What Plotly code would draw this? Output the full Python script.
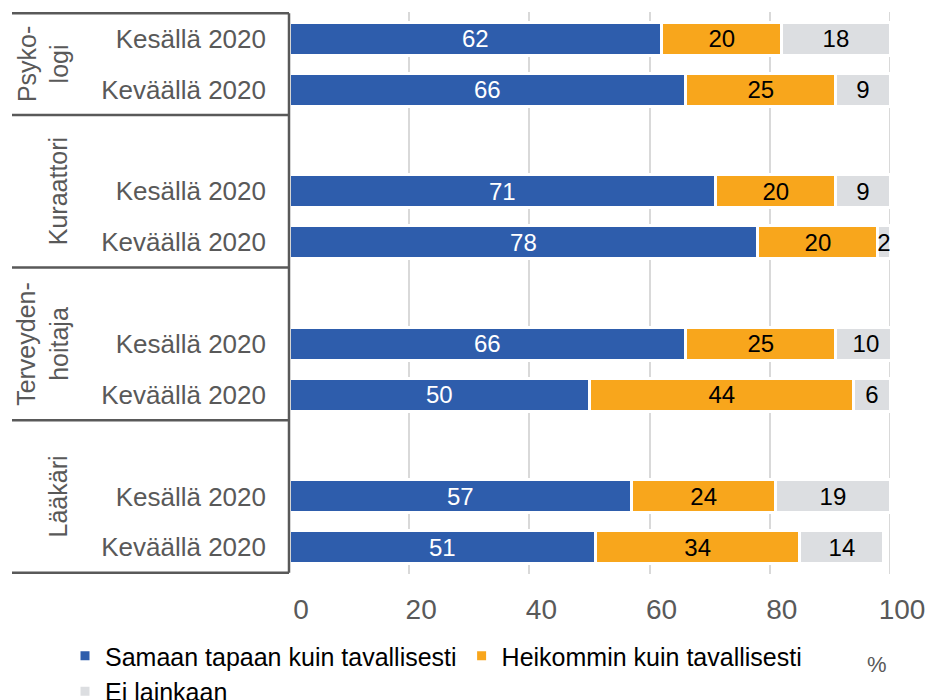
import plotly.graph_objects as go

# ---- data ----
groups = ["Psykologi", "Kuraattori", "Terveydenhoitaja", "Lääkäri"]
group_labels = ["Psyko-<br>logi", "Kuraattori", "Terveyden-<br>hoitaja", "Lääkäri"]
periods = ["Kesällä 2020", "Keväällä 2020"]
series_names = ["Samaan tapaan kuin tavallisesti", "Heikommin kuin tavallisesti", "Ei lainkaan"]

samaan = [62, 66, 71, 78, 66, 50, 57, 51]
heikommin = [20, 25, 20, 20, 25, 44, 24, 34]
ei = [18, 9, 9, 2, 10, 6, 19, 14]

x_ticks = [0, 20, 40, 60, 80, 100]

colors = ["#2E5DAC", "#F8A61C", "#DCDEE1"]
text_colors = ["#FFFFFF", "#000000", "#000000"]

FONT = "Liberation Sans, Arial, sans-serif"
GREY = "#595959"

# ---- build categories: a blank spacer slot before every group except the first ----
cats, ticktext, bar_keys = [], [], []
group_slots = []
for gi, g in enumerate(groups):
    start = len(cats)
    if gi > 0:
        cats.append(" " * gi)
        ticktext.append("")
    for p in periods:
        key = f"{g}|{p}"
        cats.append(key)
        ticktext.append(p)
        bar_keys.append(key)
    group_slots.append((start, len(cats) - 1))

fig = go.Figure()
for name, vals, col, tcol in zip(series_names, [samaan, heikommin, ei], colors, text_colors):
    fig.add_trace(go.Bar(
        name=name, orientation="h", y=bar_keys, x=vals,
        marker=dict(color=col, line=dict(color="white", width=3)),
        text=[str(v) for v in vals], textposition="inside", insidetextanchor="middle",
        textangle=0, textfont=dict(color=tcol, size=24, family=FONT),
        hoverinfo="skip",
    ))

n = len(cats)
left_px = 289
right_px = 39
top_px = 12
bottom_px = 126
plot_w = 929 - left_px - right_px
plot_h = 700 - top_px - bottom_px
box_left = (12 - left_px) / plot_w


def py(px):
    return (700 - bottom_px - px) / plot_h


shapes = []
# gridline at the right edge (100), which plotly does not draw on the plot border
shapes.append(dict(type="line", xref="x", yref="paper", x0=x_ticks[-1], x1=x_ticks[-1], y0=0, y1=1,
                   layer="below", line=dict(color="#D9D9D9", width=2)))
bounds = [-0.5] + [hi + 0.5 for (_, hi) in group_slots]
for b in bounds:
    shapes.append(dict(type="line", xref="paper", yref="y", x0=box_left, x1=0, y0=b, y1=b,
                       line=dict(color=GREY, width=2.5)))
shapes.append(dict(type="line", xref="paper", yref="y", x0=0, x1=0, y0=-0.5, y1=n - 0.5,
                   line=dict(color=GREY, width=2.5)))

annotations = []
for (lo, hi), lab in zip(group_slots, group_labels):
    center = (lo - 0.5 + hi + 0.5) / 2
    two = "<br>" in lab
    xpx = 43 if two else 58
    annotations.append(dict(
        text=lab, textangle=-90, xref="paper", yref="y",
        x=(xpx - left_px) / plot_w, y=center, xanchor="center", yanchor="middle",
        showarrow=False, font=dict(size=25, color=GREY, family=FONT), align="center",
    ))
annotations.append(dict(text="%", xref="paper", yref="paper",
                        x=(877 - left_px) / plot_w, y=py(664),
                        xanchor="center", yanchor="middle", showarrow=False,
                        font=dict(size=22, color=GREY, family=FONT)))

fig.update_layout(
    width=929, height=700,
    margin=dict(l=left_px, r=right_px, t=top_px, b=bottom_px, pad=0, autoexpand=False),
    barmode="stack", bargap=0.35,
    plot_bgcolor="white", paper_bgcolor="white",
    font=dict(family=FONT, color=GREY),
    showlegend=True,
    legend=dict(orientation="h", x=(65 - left_px) / plot_w, xanchor="left",
                y=py(633), yanchor="top",
                font=dict(size=25, color="#000000", family=FONT),
                traceorder="normal", itemclick=False),
    uniformtext=dict(minsize=24, mode="show"),
    shapes=shapes, annotations=annotations,
)
fig.update_xaxes(range=[0, 100], tickvals=x_ticks, showgrid=True, gridcolor="#D9D9D9",
                 gridwidth=2, zeroline=False, showline=False, ticks="", automargin=False,
                 tickfont=dict(size=28, color=GREY, family=FONT),
                 ticklabelshift=12, ticklabelstandoff=16)
fig.update_yaxes(type="category", categoryorder="array", categoryarray=cats,
                 tickvals=cats, ticktext=ticktext, autorange="reversed",
                 range=[n - 0.5, -0.5], showgrid=False, zeroline=False, ticks="", automargin=False,
                 tickfont=dict(size=26, color=GREY, family=FONT), ticklabelstandoff=22)

fig.write_html("out.html")
